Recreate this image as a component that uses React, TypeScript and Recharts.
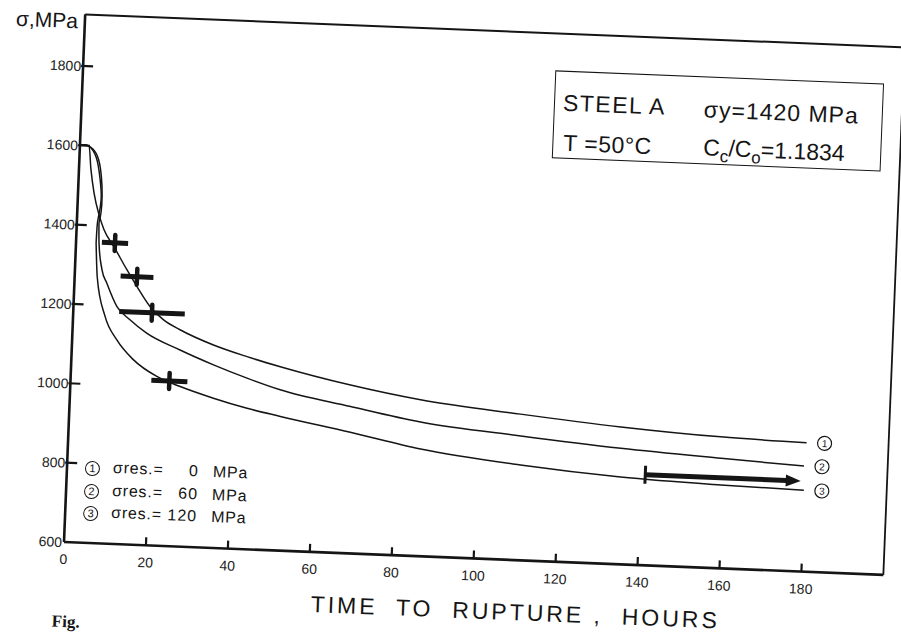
import * as React from "react";
import { ComposedChart, Line, Scatter, ErrorBar, XAxis, YAxis } from "recharts";

// ── Data ────────────────────────────────────────────────────────────────────

const timeTicks = [0, 20, 40, 60, 80, 100, 120, 140, 160, 180];
const stressTicks = [600, 800, 1000, 1200, 1400, 1600, 1800];

// [time h, stress MPa]
const curveRes0: [number, number][] = [
  [0, 1600], [2.2, 1600], [2.9, 1542], [3.9, 1482], [5.4, 1425], [6.7, 1390],
  [9.3, 1348], [12.7, 1291], [15.3, 1250], [18.7, 1201], [22.1, 1169],
  [26.2, 1146], [34.5, 1111], [42.8, 1085], [51, 1063], [68.3, 1024],
  [85.5, 994], [110, 968], [134.6, 946], [159, 931], [180, 925],
];
// σres = 60 and 120 first swing out and back near 1600 MPa (the loop)
const loopRes60: [number, number][] = [
  [0, 1600], [2, 1600], [4.3, 1576], [5.5, 1526], [5.9, 1475], [5.8, 1433], [5.4, 1407],
];
const curveRes60: [number, number][] = [
  [5.4, 1407], [5.6, 1357], [6.6, 1289], [7.9, 1256], [10.6, 1198],
  [13.9, 1166], [18.1, 1134], [26.4, 1095], [34.7, 1061], [43, 1031],
  [51.2, 1005], [68.5, 970], [85.7, 938], [110.3, 913], [134.8, 892],
  [159.3, 877], [179.6, 866],
];
const loopRes120: [number, number][] = [
  [0, 1600], [2, 1600], [4.1, 1571], [5.2, 1520], [5.7, 1470], [5.3, 1427], [5.0, 1402], [4.9, 1356],
];
const curveRes120: [number, number][] = [
  [4.9, 1356], [5.5, 1271], [7.8, 1172], [10.9, 1114], [15.1, 1066],
  [21, 1026], [26.8, 1003], [35, 977], [43.3, 955], [51.5, 938],
  [68.7, 905], [86, 870], [110.5, 840], [135, 820], [159.5, 810], [179.8, 805],
];

const ruptureTime = [9.5, 15.2, 19.2, 24.1];
const ruptureStress = [1358, 1275, 1186, 1016];
const ruptureSpread = [3.2, 4.0, 8.0, 4.4];

const runoutTime = [141, 177];
const runoutStress = [828, 828];

const residualStress = ["0", "60", "120"];

// ── Layout ──────────────────────────────────────────────────────────────────

const W = 901;
const H = 637;
const TILT = 2.3; // the scan is turned a little clockwise
const INK = "#151515";
const FONT = '"Liberation Sans", Arial, sans-serif';

const toRows = (pts: [number, number][]) => pts.map(([t, s]) => ({ t, s }));

const rupture = ruptureTime.map((t, i) => ({ t, s: ruptureStress[i], spread: ruptureSpread[i] }));
const runout = runoutTime.map((t, i) => ({ t, s: runoutStress[i] }));

function YTick({ x, y, payload }: any) {
  return (
    <g>
      {payload.value > 600 && (
        <line x1={x - 2} x2={x + 10} y1={y} y2={y} stroke={INK} strokeWidth={2.2} />
      )}
      <text x={x - 2} y={y} dy="0.36em" textAnchor="end" fontSize={14} fontFamily={FONT} fill="#222">
        {payload.value}
      </text>
    </g>
  );
}

function XTick({ x, y, payload }: any) {
  return (
    <g>
      {payload.value > 0 && (
        <line x1={x} x2={x} y1={y} y2={y - 8} stroke={INK} strokeWidth={2.2} />
      )}
      <text x={x} y={y + 22} textAnchor="middle" fontSize={14} fontFamily={FONT} fill="#222">
        {payload.value}
      </text>
    </g>
  );
}

// circled number after the last point of a curve
const endTag = (tag: string, count: number) => (p: any) => {
  if (p.index !== count - 1) return <g key={`d${tag}${p.index}`} />;
  return (
    <g key={`d${tag}${p.index}`}>
      <circle cx={p.cx + 18} cy={p.cy} r={7} fill="#fff" stroke={INK} strokeWidth={1.2} />
      <text x={p.cx + 18} y={p.cy} dy="0.36em" textAnchor="middle" fontSize={10} fontFamily={FONT} fill={INK}>
        {tag}
      </text>
    </g>
  );
};

const runoutDot = (p: any) => {
  if (p.index === 0) {
    return <line key="r0" x1={p.cx} x2={p.cx} y1={p.cy - 9} y2={p.cy + 9} stroke={INK} strokeWidth={3} />;
  }
  return (
    <path key="r1" d={`M${p.cx - 7},${p.cy - 6} L${p.cx + 8},${p.cy} L${p.cx - 7},${p.cy + 6} Z`} fill={INK} />
  );
};

const plusMark = (p: any) => (
  <line x1={p.cx} x2={p.cx} y1={p.cy - 8} y2={p.cy + 8} stroke={INK} strokeWidth={4.5} strokeLinecap="round" />
);

const text = (extra: React.CSSProperties): React.CSSProperties => ({
  position: "absolute",
  fontFamily: FONT,
  color: INK,
  lineHeight: 1,
  whiteSpace: "pre",
  ...extra,
});

function Circled({ n }: { n: number }) {
  return (
    <span
      style={{
        display: "inline-block",
        width: 15,
        height: 15,
        border: `1.3px solid ${INK}`,
        borderRadius: "50%",
        fontSize: 11,
        lineHeight: "13px",
        textAlign: "center",
        boxSizing: "border-box",
      }}
    >
      {n}
    </span>
  );
}

export default function App() {
  const tails = [curveRes0, curveRes60, curveRes120];
  const loops = [loopRes60, loopRes120];
  return (
    <div style={{ position: "fixed", left: 0, top: 0, width: W, height: H, overflow: "hidden", background: "#fff" }}>
      <div
        style={{
          position: "relative",
          width: W,
          height: H,
          transform: `rotate(${TILT}deg)`,
          transformOrigin: "64px 542px",
        }}
      >
        <ComposedChart width={W} height={H} margin={{ top: 13, right: 16, bottom: 65, left: 24 }}>
          <XAxis
            dataKey="t"
            type="number"
            domain={[0, 200]}
            ticks={timeTicks}
            allowDataOverflow
            height={30}
            tickSize={0}
            tickMargin={0}
            tick={XTick}
            axisLine={{ stroke: INK, strokeWidth: 2.6 }}
          />
          <XAxis xAxisId="frame" orientation="top" type="number" domain={[0, 1]} height={1} tick={false} tickLine={false} axisLine={{ stroke: INK, strokeWidth: 2 }} />
          <YAxis
            dataKey="s"
            type="number"
            domain={[600, 1930]}
            ticks={stressTicks}
            allowDataOverflow
            width={40}
            tickSize={0}
            tickMargin={0}
            tick={YTick}
            axisLine={{ stroke: INK, strokeWidth: 2.6 }}
          />
          <YAxis yAxisId="frame" orientation="right" type="number" domain={[0, 1]} width={1} tick={false} tickLine={false} axisLine={{ stroke: INK, strokeWidth: 1.8 }} />
          {loops.map((c, i) => (
            <Line
              key={`loop${i}`}
              data={toRows(c)}
              dataKey="s"
              type="natural"
              stroke={INK}
              strokeWidth={1.5}
              dot={false}
              activeDot={false}
              isAnimationActive={false}
            />
          ))}
          {tails.map((c, i) => (
            <Line
              key={`curve${i}`}
              data={toRows(c)}
              dataKey="s"
              type="monotone"
              stroke={INK}
              strokeWidth={1.5}
              dot={endTag(String(i + 1), c.length)}
              activeDot={false}
              isAnimationActive={false}
            />
          ))}
          <Line
            data={runout}
            dataKey="s"
            type="linear"
            stroke={INK}
            strokeWidth={5}
            dot={runoutDot}
            activeDot={false}
            isAnimationActive={false}
          />
          <Scatter data={rupture} dataKey="s" fill={INK} shape={plusMark} isAnimationActive={false}>
            <ErrorBar dataKey="spread" direction="x" width={0} stroke={INK} strokeWidth={5} />
          </Scatter>
        </ComposedChart>

        {/* axis titles */}
        <div style={text({ left: -5, top: 10, fontSize: 21 })}>σ,MPa</div>
        <div style={text({ left: 313, top: 583, width: 400, textAlign: "center", fontSize: 23, letterSpacing: 3 })}>
          {"TIME  TO  RUPTURE ,  HOURS"}
        </div>

        {/* info box */}
        <div
          style={{
            position: "absolute",
            left: 536,
            top: 51,
            width: 329,
            height: 88,
            border: `1.6px solid ${INK}`,
            boxSizing: "border-box",
          }}
        >
          <div style={text({ left: 8, top: 20, fontSize: 23, letterSpacing: 1.5 })}>STEEL A</div>
          <div style={text({ left: 149, top: 21, fontSize: 23, letterSpacing: 1 })}>σy=1420 MPa</div>
          <div style={text({ left: 10, top: 60, fontSize: 23, letterSpacing: 0.5 })}>T =50°C</div>
          <div style={text({ left: 150, top: 59, fontSize: 23 })}>
            C<span style={{ fontSize: 17, position: "relative", top: 6 }}>c</span>/C
            <span style={{ fontSize: 17, position: "relative", top: 6 }}>o</span>=1.1834
          </div>
        </div>

        {/* legend */}
        {residualStress.map((v, i) => {
          const top = 458 + i * 22.5;
          return (
            <React.Fragment key={v}>
              <div style={text({ left: 82, top: top, fontSize: 16 })}>
                <Circled n={i + 1} />
              </div>
              <div style={text({ left: 110, top, fontSize: 16, letterSpacing: 0.8 })}>σres.=</div>
              <div style={text({ left: 150, top, width: 46, textAlign: "right", fontSize: 16, letterSpacing: 1 })}>{v}</div>
              <div style={text({ left: 210, top, fontSize: 16, letterSpacing: 0.8 })}>MPa</div>
            </React.Fragment>
          );
        })}

        <div style={text({ left: 55, top: 613, fontSize: 17, fontWeight: "bold", fontFamily: "serif" })}>Fig.</div>
      </div>
    </div>
  );
}
